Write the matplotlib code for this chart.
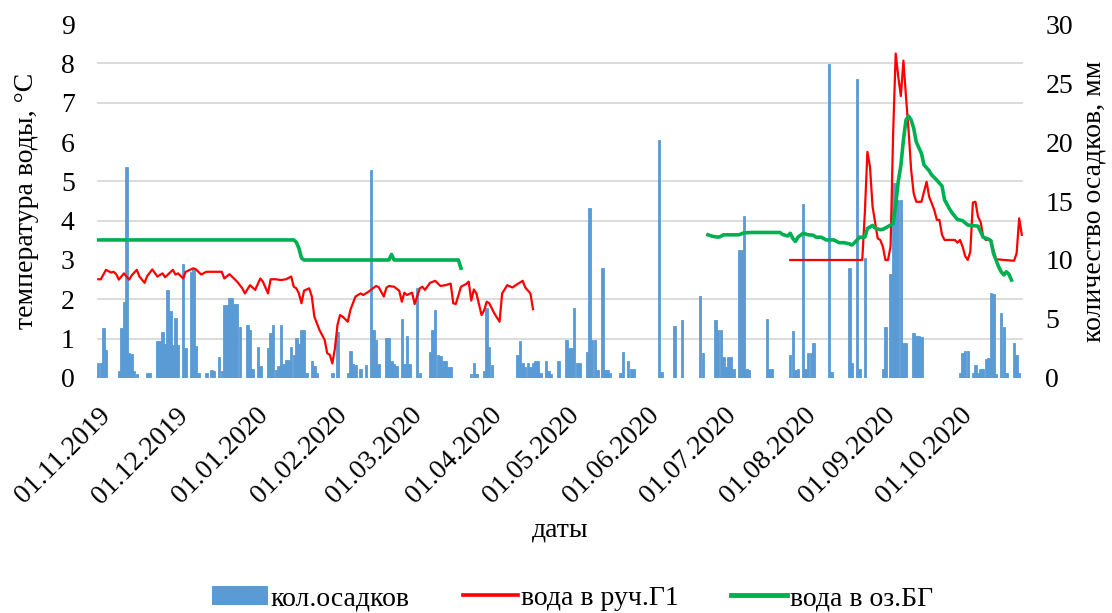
import matplotlib
matplotlib.use("Agg")
import matplotlib.pyplot as plt
import matplotlib.dates as mdates
from matplotlib.lines import Line2D
from matplotlib.patches import Patch
from matplotlib.ticker import MultipleLocator
import pandas as pd

START = pd.Timestamp("2019-11-01")
LAST_DAY = 359  # 25.10.2020

# daily precipitation, mm (day = days since 01.11.2019)
PRECIP_DAY = [
    0, 1, 2, 3, 8, 9, 10, 11, 12, 13, 14, 15, 19, 20,
    23, 24, 25, 26, 27, 28, 29, 30, 31, 33, 34, 36, 37, 38, 39,
    42, 44, 45, 47, 48, 49, 50, 51, 52, 53, 54, 55, 58, 59, 60, 62, 63,
    66, 67, 68, 69, 70, 71, 72, 73, 74, 75, 76, 77, 78, 79, 80, 81,
    83, 84, 85, 91, 93, 97, 98, 99, 100, 102, 104, 106, 107, 108, 109,
    112, 113, 114, 115, 116, 118, 119, 120, 121, 124, 125,
    129, 130, 131, 132, 133, 134, 135, 136, 137,
    145, 146, 147, 150, 151, 152, 153,
    163, 164, 165, 166, 167, 168, 169, 170, 171, 172, 174, 175, 176, 179,
    182, 183, 184, 185, 186, 187, 190, 191, 192, 193, 194, 196, 197, 198, 199,
    203, 204, 206, 207, 208, 218, 219, 224, 227, 234, 235,
    240, 241, 242, 243, 244, 245, 246, 247, 249, 250, 251, 252, 253,
    260, 261, 262, 269, 270, 271, 272, 274, 275, 276, 277, 278,
    284, 285, 292, 293, 295, 296, 298,
    305, 306, 308, 309, 310, 311, 312, 313, 314, 317, 318, 319, 320,
    335, 336, 337, 338, 340, 341, 342, 343, 344, 345, 346, 347, 348, 349,
    351, 352, 353, 356, 357, 358,
]
PRECIP_MM = [
    1.25, 1.25, 4.2, 2.4, 0.6, 4.2, 6.4, 17.9, 2.15, 2.0, 0.55, 0.35, 0.4, 0.4,
    3.1, 3.1, 3.9, 2.9, 7.45, 5.65, 2.8, 5.05, 2.8, 9.7, 2.5, 9.0, 9.2, 2.7, 0.4,
    0.4, 0.7, 0.55, 1.8, 0.55, 6.2, 6.2, 6.75, 6.75, 6.3, 6.3, 4.35, 4.5, 4.1, 0.8, 2.65, 1.0,
    2.5, 3.8, 4.5, 0.7, 1.0, 4.5, 1.2, 1.5, 1.5, 2.65, 1.95, 3.35, 2.9, 4.1, 4.1, 0.4,
    1.4, 1.0, 0.4, 0.4, 3.9, 0.4, 2.3, 1.2, 1.1, 0.8, 1.1, 17.6, 4.1, 3.2, 1.2,
    3.35, 3.35, 1.4, 1.2, 1.0, 5.0, 1.2, 3.6, 1.2, 7.6, 0.4,
    2.2, 4.1, 5.75, 1.95, 1.9, 1.4, 1.4, 0.95, 0.95,
    0.35, 1.3, 0.35, 0.55, 5.9, 2.65, 1.1,
    1.95, 3.1, 1.3, 0.95, 1.25, 0.95, 1.3, 1.4, 1.4, 0.4, 1.45, 0.55, 0.35, 1.4,
    3.2, 2.5, 2.5, 5.9, 1.3, 1.3, 2.2, 14.4, 3.2, 3.2, 0.7, 9.3, 0.7, 0.7, 0.4,
    0.4, 2.2, 1.4, 0.8, 0.8, 20.2, 0.5, 4.4, 4.9, 6.95, 2.15,
    4.9, 4.1, 4.1, 1.75, 0.95, 1.75, 1.75, 0.8, 10.85, 10.85, 13.7, 0.8, 0.7,
    5.0, 0.8, 0.8, 1.95, 4.0, 0.7, 0.8, 14.75, 0.8, 2.15, 2.15, 2.95,
    26.6, 0.5, 9.3, 1.3, 25.3, 0.8, 10.2,
    0.8, 4.35, 8.85, 16.5, 16.5, 15.1, 15.1, 2.95, 2.95, 3.85, 3.55, 3.55, 3.5,
    0.45, 2.1, 2.3, 2.3, 0.4, 1.1, 0.45, 0.8, 0.8, 1.65, 1.7, 7.2, 7.1, 0.3,
    5.5, 4.35, 0.4, 3.0, 1.95, 0.4,
]

# water temperature in stream G1, degC
RED1_DAY = [
    0, 1, 3, 5, 6, 7, 8, 10, 12, 13, 15, 16, 18, 19, 21, 23, 25, 26, 29, 30,
    31, 33, 34, 37, 38, 40, 42, 45, 48, 49, 51, 54, 56, 57, 59, 61, 63, 64, 66, 67,
    69, 71, 73, 75, 76, 77, 78, 79, 80, 82, 83, 84, 86, 88, 89, 90, 91, 92, 93, 94,
    95, 97, 98, 100, 102, 103, 105, 108, 109, 111, 112, 113, 115, 117, 118, 119, 120,
    122, 123, 125, 126, 127, 129, 131, 133, 135, 137, 138, 139, 141, 143, 144, 145,
    146, 147, 149, 150, 151, 152, 154, 156, 157, 159, 161, 163, 165, 166, 168, 169,
]
RED1_T = [
    2.51, 2.51, 2.75, 2.68, 2.70, 2.64, 2.50, 2.66, 2.50, 2.61, 2.75, 2.58, 2.42, 2.59,
    2.76, 2.58, 2.66, 2.56, 2.75, 2.63, 2.66, 2.53, 2.70, 2.79, 2.76, 2.63, 2.70, 2.70,
    2.70, 2.53, 2.64, 2.45, 2.28, 2.15, 2.36, 2.24, 2.53, 2.45, 2.15, 2.51, 2.51, 2.49,
    2.51, 2.58, 2.32, 2.28, 2.15, 1.90, 2.22, 2.28, 2.08, 1.56, 1.22, 0.97, 0.63, 0.59,
    0.37, 0.75, 1.35, 1.60, 1.56, 1.43, 1.73, 2.07, 2.15, 2.11, 2.19, 2.34, 2.31, 2.07,
    2.29, 2.34, 2.32, 2.22, 1.94, 2.17, 2.11, 2.17, 1.88, 2.28, 2.32, 2.24, 2.42, 2.47,
    2.34, 2.36, 2.40, 1.90, 1.88, 2.32, 2.39, 2.45, 1.97, 2.25, 2.15, 1.60, 1.72, 1.94,
    1.90, 1.64, 1.43, 2.15, 2.36, 2.30, 2.39, 2.47, 2.30, 2.15, 1.75,
]
RED2_DAY = [
    269, 297, 298, 299, 300, 301, 303, 304, 305, 306, 307, 308, 309, 310, 311, 312,
    313, 314, 315, 316, 317, 318, 320, 322, 323, 325, 326, 327, 328, 329, 331, 333,
    334, 335, 336, 337, 338, 339, 340, 341, 342, 343, 344, 345, 347, 348, 349, 356,
    357, 358, 359,
]
RED2_T = [
    3.0, 3.0, 4.2, 5.75, 5.37, 4.36, 3.55, 3.51, 3.34, 3.0, 3.0, 3.34, 6.22, 8.25,
    7.66, 7.17, 8.07, 7.15, 6.30, 5.29, 4.69, 4.48, 4.48, 4.99, 4.61, 4.27, 4.02, 4.02,
    3.64, 3.51, 3.51, 3.51, 3.44, 3.51, 3.34, 3.10, 3.0, 3.21, 4.46, 4.48, 4.10, 3.97,
    3.59, 3.51, 3.51, 3.25, 3.02, 2.98, 3.17, 4.06, 3.64,
]

# water temperature in lake BG, degC
GREEN1_DAY = [0, 76, 77, 78, 79, 80, 113, 114, 115, 140, 141]
GREEN1_T = [3.51, 3.51, 3.45, 3.30, 3.05, 3.0, 3.0, 3.14, 3.0, 3.0, 2.79]
GREEN2_DAY = [
    237, 239, 241, 242, 243, 246, 249, 251, 254, 259, 265, 266, 268, 269, 270, 271,
    272, 274, 276, 278, 279, 281, 283, 286, 288, 290, 292, 293, 294, 296, 298, 299,
    301, 302, 304, 305, 307, 309, 310, 311, 312, 313, 314, 315, 316, 317, 318, 320,
    321, 323, 324, 326, 328, 329, 331, 332, 334, 336, 338, 342, 344, 346, 347, 348,
    350, 351, 352, 353, 354, 355,
]
GREEN2_T = [
    3.64, 3.60, 3.58, 3.60, 3.64, 3.64, 3.64, 3.69, 3.70, 3.70, 3.70, 3.65, 3.61, 3.68,
    3.55, 3.47, 3.58, 3.68, 3.64, 3.63, 3.58, 3.58, 3.51, 3.51, 3.44, 3.44, 3.41, 3.38,
    3.44, 3.58, 3.58, 3.80, 3.88, 3.81, 3.77, 3.78, 3.85, 3.93, 4.40, 5.00, 5.40, 6.05,
    6.56, 6.66, 6.56, 6.35, 6.00, 5.71, 5.42, 5.27, 5.16, 5.03, 4.88, 4.53, 4.29, 4.19,
    4.03, 4.00, 3.89, 3.86, 3.58, 3.53, 3.49, 3.17, 2.83, 2.70, 2.62, 2.70, 2.64, 2.49,
]

BLUE = "#5B9BD5"
RED = "#FF0000"
GREEN = "#00B050"
GRID = "#D9D9D9"


def to_dates(days):
    return START + pd.to_timedelta(days, unit="D")


plt.rcParams["font.family"] = ["Liberation Serif", "DejaVu Serif"]
plt.rcParams["font.size"] = 20

fig = plt.figure(figsize=(11.12, 6.13), dpi=100)
ax_t = fig.add_axes([0.0872, 0.3834, 0.8328, 0.5774])
ax_p = ax_t.twinx()
# lines over the bars
ax_t.set_zorder(ax_p.get_zorder() + 1)
ax_t.patch.set_visible(False)

ax_p.bar(to_dates(PRECIP_DAY), PRECIP_MM, width=0.95, color=BLUE,
         edgecolor=BLUE, linewidth=0.6, zorder=2)
ax_t.plot(to_dates(RED1_DAY), RED1_T, color=RED, lw=1.6)
ax_t.plot(to_dates(RED2_DAY), RED2_T, color=RED, lw=1.6)
ax_t.plot(to_dates(GREEN1_DAY), GREEN1_T, color=GREEN, lw=2.6)
ax_t.plot(to_dates(GREEN2_DAY), GREEN2_T, color=GREEN, lw=2.6)

ax_t.set_ylim(0, 9)
ax_t.yaxis.set_major_locator(MultipleLocator(1))
ax_p.set_ylim(0, 30)
ax_p.yaxis.set_major_locator(MultipleLocator(5))
# horizontal grid follows the left axis (every 1 degC)
ax_p.yaxis.set_minor_locator(MultipleLocator(10 / 3))
ax_p.grid(axis="y", which="minor", color=GRID, lw=1.3)
ax_p.set_axisbelow(True)

ax_t.set_xlim(to_dates([-0.5])[0], to_dates([LAST_DAY + 0.5])[0])
ax_t.xaxis.set_major_locator(mdates.MonthLocator(bymonthday=1))
ax_t.xaxis.set_major_formatter(mdates.DateFormatter("%d.%m.%Y"))
for lbl in ax_t.get_xticklabels():
    lbl.set_rotation(45)
    lbl.set_ha("right")
    lbl.set_va("top")
    lbl.set_rotation_mode("anchor")

for a in (ax_t, ax_p):
    for s in a.spines.values():
        s.set_visible(False)
    a.tick_params(which="both", length=0)
ax_t.tick_params(axis="x", pad=18)
ax_t.tick_params(axis="y", pad=16)
ax_p.tick_params(axis="y", pad=16)

ax_t.set_ylabel("температура воды, °С", labelpad=16)
ax_p.set_ylabel("количество осадков, мм", labelpad=6)
ax_t.set_xlabel("даты")
ax_t.xaxis.set_label_coords(0.5, -0.395)

handles = [
    Patch(facecolor=BLUE, edgecolor="none"),
    Line2D([], [], color=RED, lw=2.6),
    Line2D([], [], color=GREEN, lw=3.5),
]
fig.legend(handles, ["кол.осадков", "вода в руч.Г1", "вода в оз.БГ"],
           loc="center", bbox_to_anchor=(0.515, 0.024), ncol=3,
           frameon=False, handlelength=2.0, handletextpad=0.1, columnspacing=1.9)

fig.savefig("out.png", dpi=100)
